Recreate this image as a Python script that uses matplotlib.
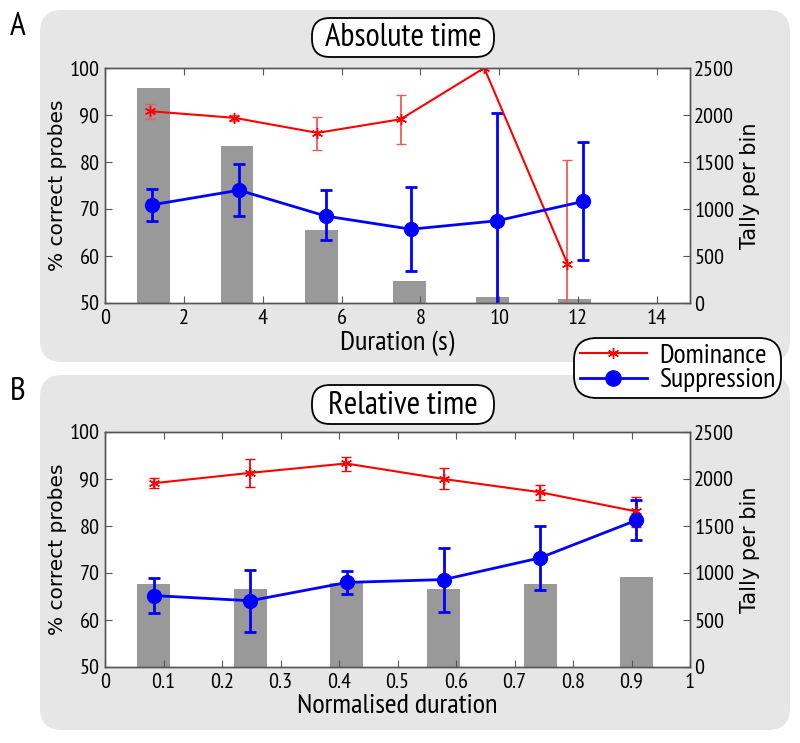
import matplotlib
matplotlib.use("Agg")
import matplotlib.pyplot as plt
from matplotlib.patches import FancyBboxPatch
from matplotlib.lines import Line2D

NARROW = ['PT Sans Narrow', 'DejaVu Sans']
WIDE = ['DejaVu Sans']
plt.rcParams['font.family'] = NARROW

# ---------------- data: panel A (absolute time) ----------------
abs_bar_x = [1.23, 3.35, 5.5, 7.72, 9.83, 11.91]
abs_bar_tally = [2287, 1674, 780, 234, 64, 39]
abs_dom_x = [1.15, 3.28, 5.39, 7.5, 9.62, 11.73]
abs_dom_y = [90.8, 89.4, 86.2, 89.1, 100.0, 58.4]
abs_dom_lo = [89.2, 88.7, 82.6, 83.9, 100.0, 36.4]
abs_dom_hi = [92.4, 90.1, 89.6, 94.2, 100.0, 80.4]
abs_sup_x = [1.2, 3.4, 5.6, 7.76, 9.95, 12.12]
abs_sup_y = [70.9, 74.0, 68.5, 65.7, 67.5, 71.6]
abs_sup_lo = [67.4, 68.5, 63.3, 56.8, 44.6, 59.1]
abs_sup_hi = [74.3, 79.6, 74.0, 74.7, 90.4, 84.3]
abs_xticks = [0, 2, 4, 6, 8, 10, 12, 14]

# ---------------- data: panel B (relative time) ----------------
rel_bar_x = [0.083, 0.249, 0.413, 0.579, 0.745, 0.908]
rel_bar_tally = [886, 826, 897, 826, 886, 957]
rel_dom_x = [0.083, 0.248, 0.412, 0.579, 0.743, 0.908]
rel_dom_y = [89.1, 91.3, 93.3, 90.0, 87.2, 83.1]
rel_dom_lo = [88.0, 88.4, 91.8, 87.9, 85.6, 79.8]
rel_dom_hi = [90.2, 94.3, 94.6, 92.3, 88.7, 86.2]
rel_sup_x = [0.083, 0.248, 0.414, 0.579, 0.743, 0.908]
rel_sup_y = [65.2, 64.1, 68.0, 68.6, 73.2, 81.2]
rel_sup_lo = [61.4, 57.4, 65.6, 61.7, 66.3, 77.0]
rel_sup_hi = [68.9, 70.7, 70.4, 75.3, 79.9, 85.5]
rel_xticks = [0, 0.1, 0.2, 0.3, 0.4, 0.5, 0.6, 0.7, 0.8, 0.9, 1.0]
rel_xticklabels = ['0', '0.1', '0.2', '0.3', '0.4', '0.5', '0.6', '0.7', '0.8', '0.9', '1']

left_ticks = [50, 60, 70, 80, 90, 100]
right_ticks = [0, 500, 1000, 1500, 2000, 2500]

W, H = 800, 743
fig = plt.figure(figsize=(8, 7.43), dpi=100)

# background overlay in pixel coordinates
bg = fig.add_axes([0, 0, 1, 1], zorder=-5)
bg.set_xlim(0, W)
bg.set_ylim(H, 0)
bg.axis('off')
for (x0, y0, x1, y1) in [(40, 10, 790, 362), (40, 375, 790, 730)]:
    bg.add_patch(FancyBboxPatch((x0, y0), x1 - x0, y1 - y0,
                                boxstyle="round,pad=0,rounding_size=22",
                                fc='#e6e6e6', ec='none'))

def ax_rect(left, top, right, bottom):
    return [left / W, 1 - bottom / H, (right - left) / W, (bottom - top) / H]

RED = '#ff0000'
BLUE = '#0000ff'
BAR = '#999999'
SPINE = '#555555'
ast = (6, 2, 0)

def panel(rect, bar_x, bar_t, bar_w, dx, dy, dlo, dhi, sx, sy, slo, shi,
          xlim, xticks, xticklabels, xlabel, dom_err_color):
    ax2 = fig.add_axes(rect)
    ax = fig.add_axes(rect, sharex=ax2)
    ax.set_zorder(ax2.get_zorder() + 1)
    ax.patch.set_visible(False)
    ax2.set_facecolor('white')
    ax2.bar(bar_x, bar_t, width=bar_w, color=BAR, zorder=1)
    ax2.set_ylim(0, 2500)
    ax2.yaxis.tick_right()
    ax2.yaxis.set_label_position('right')
    ax2.set_yticks(right_ticks)
    ax2.set_ylabel('Tally per bin', fontsize=15, family=WIDE, labelpad=4)

    derr = [[y - lo for y, lo in zip(dy, dlo)], [hi - y for y, hi in zip(dy, dhi)]]
    serr = [[y - lo for y, lo in zip(sy, slo)], [hi - y for y, hi in zip(sy, shi)]]
    ax.errorbar(dx, dy, yerr=derr, color=RED, ecolor=dom_err_color, lw=1.5,
                elinewidth=1.3, capsize=3.5, capthick=1.3, marker=ast, ms=8,
                mec=RED, mew=1.0, clip_on=True)
    ax.errorbar(sx, sy, yerr=serr, color=BLUE, ecolor=BLUE, lw=2,
                elinewidth=2, capsize=4, capthick=2, marker='o', ms=10,
                mfc=BLUE, mec=BLUE)
    ax.set_ylim(50, 100)
    ax.set_xlim(*xlim)
    ax.set_yticks(left_ticks)
    ax.set_xticks(xticks)
    ax.set_xticklabels(xticklabels)
    ax.set_ylabel('% correct probes', fontsize=14.5, family=WIDE, labelpad=2)
    ax.set_xlabel(xlabel, fontsize=20.5, labelpad=2)
    for a in (ax, ax2):
        for s in a.spines.values():
            s.set_color(SPINE)
            s.set_linewidth(1.0)
    ax.tick_params(axis='both', direction='in', length=5, color=SPINE,
                   labelsize=16, top=True, right=False, pad=4)
    ax2.tick_params(axis='y', direction='in', length=5, color=SPINE,
                    labelsize=16, left=False, right=True, pad=3)
    ax2.tick_params(axis='x', bottom=False, labelbottom=False)
    return ax, ax2

axA, axA2 = panel(ax_rect(105, 68, 690, 303), abs_bar_x, abs_bar_tally, 0.83,
                  abs_dom_x, abs_dom_y, abs_dom_lo, abs_dom_hi,
                  abs_sup_x, abs_sup_y, abs_sup_lo, abs_sup_hi,
                  (0, 14.84), abs_xticks, [str(t) for t in abs_xticks],
                  'Duration (s)', '#f25a5a')
axB, axB2 = panel(ax_rect(105, 432, 690, 667), rel_bar_x, rel_bar_tally, 0.056,
                  rel_dom_x, rel_dom_y, rel_dom_lo, rel_dom_hi,
                  rel_sup_x, rel_sup_y, rel_sup_lo, rel_sup_hi,
                  (0, 1), rel_xticks, rel_xticklabels,
                  'Normalised duration', RED)

# title boxes
top_bg = fig.add_axes([0, 0, 1, 1], zorder=10)
top_bg.set_xlim(0, W)
top_bg.set_ylim(H, 0)
top_bg.axis('off')
for (x0, y0, x1, y1, txt) in [(312, 18, 494, 57, 'Absolute time'),
                               (312, 385, 494, 424, 'Relative time')]:
    top_bg.add_patch(FancyBboxPatch((x0, y0), x1 - x0, y1 - y0,
                                    boxstyle="round,pad=0,rounding_size=18",
                                    fc='white', ec='black', lw=1.3))
    top_bg.text((x0 + x1) / 2, (y0 + y1) / 2 + 1, txt, ha='center', va='center',
                fontsize=23.5)

top_bg.text(18, 27, 'A', fontsize=24, ha='center', va='center')
top_bg.text(18, 392, 'B', fontsize=24, ha='center', va='center')

# legend
handles = [Line2D([], [], color=RED, lw=1.5, marker=ast, ms=8, mec=RED),
           Line2D([], [], color=BLUE, lw=2, marker='o', ms=11, mfc=BLUE, mec=BLUE)]
leg = fig.legend(handles, ['Dominance', 'Suppression'], loc='upper right',
                 bbox_to_anchor=(781 / W, 1 - 338 / H), borderaxespad=0,
                 fontsize=20, handlelength=2.4, handletextpad=0.45,
                 labelspacing=0.0, borderpad=0.2, framealpha=1,
                 fancybox=True)
leg.set_zorder(20)
fr = leg.get_frame()
fr.set_edgecolor('black')
fr.set_linewidth(1.3)
fr.set_boxstyle('round,pad=0,rounding_size=0.8')

fig.savefig('out.png', dpi=100)
